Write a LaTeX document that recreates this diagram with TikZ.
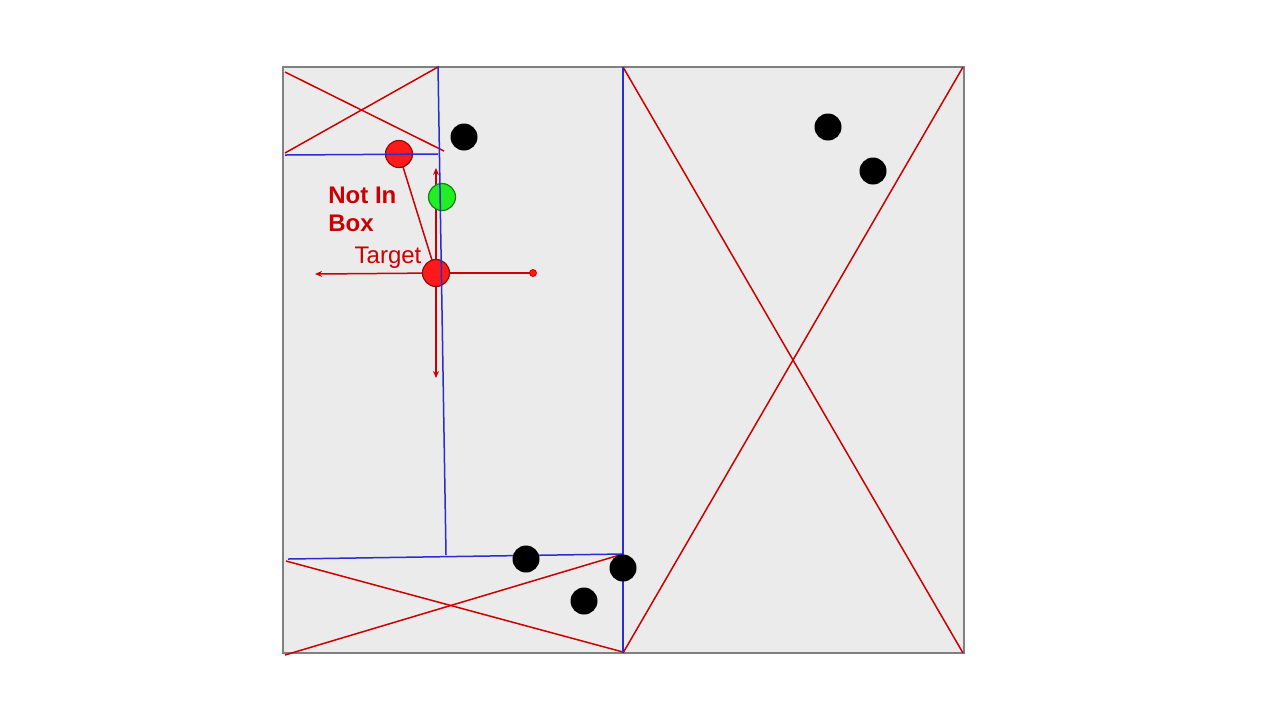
\documentclass[tikz,border=0pt]{standalone}
\usepackage{fontspec}
\setmainfont{Liberation Sans}
\usetikzlibrary{arrows.meta}
\definecolor{boxfill}{HTML}{EBEBEB}
\definecolor{boxline}{HTML}{808080}
\definecolor{xred}{HTML}{CC0000}
\definecolor{bline}{HTML}{2B2BD0}
\definecolor{ballred}{HTML}{FF1A1A}
\definecolor{ballgreen}{HTML}{22EE22}
\tikzset{
  redline/.style={draw=xred, line width=0.75pt},
  blueline/.style={draw=bline, line width=0.75pt},
  redarrow/.style={draw=xred, line width=0.75pt, -{Stealth[length=3.5pt,width=3pt]}},
  ball/.style={circle, minimum size=13.5pt, inner sep=0pt, draw=#1!55!black, line width=0.6pt, fill=#1},
  blackball/.style={circle, minimum size=13.5pt, inner sep=0pt, fill=black},
  lbl/.style={text=xred, font=\fontsize{12pt}{14pt}\selectfont, inner sep=0pt}
}
\begin{document}
\begin{tikzpicture}[x=0.5pt, y=-0.5pt]
\useasboundingbox (0,0) rectangle (1280,720);
\fill[white] (0,0) rectangle (1280,720);
% main frame
\draw[boxline, fill=boxfill, line width=1pt] (283,67) rectangle (964,653);

% positions
\coordinate (pRed) at (399,154);
\coordinate (pGreen) at (442,197);
\coordinate (pTarget) at (436,273);
\coordinate (aUp) at (436,168);
\coordinate (aDown) at (436,378);
\coordinate (aLeft) at (315,274);
\coordinate (aRight) at (533,273);

% red X shapes
\draw[redline] (285,72) -- (444,151);
\draw[redline] (285,153) -- (438,67);
\draw[redline] (286,561) -- (623,652);
\draw[redline] (285,655) -- (623,554);
\draw[redline] (623,67) -- (963,653);
\draw[redline] (623,653) -- (963,67);

% target arrows
\draw[redline] (pRed) -- (pTarget);
\draw[redarrow] (pTarget) -- (aUp);
\draw[redarrow] (pTarget) -- (aDown);
\draw[redarrow] (pTarget) -- (aLeft);
\draw[redline] (pTarget) -- (aRight);
\node[circle, fill=ballred, draw=xred, line width=0.4pt, minimum size=3.5pt, inner sep=0pt] (dotR) at (aRight) {};

% colored balls
\node[ball=ballred] (redball) at (pRed) {};
\node[ball=ballgreen] (greenball) at (pGreen) {};
\node[ball=ballred] (target) at (pTarget) {};

% blue lines
\draw[blueline] (285,155) -- (438,154);
\draw[blueline] (438,66) -- (446,555);
\draw[blueline] (288,559) -- (623,554);
\draw[blueline] (623,67) -- (623,653);

% black balls
\node[blackball] (b1) at (464,137) {};
\node[blackball] (b2) at (526,559) {};
\node[blackball] (b3) at (584,601) {};
\node[blackball] (b4) at (623,568) {};
\node[blackball] (b5) at (828,127) {};
\node[blackball] (b6) at (873,171) {};

% labels
\node[lbl, anchor=base west, align=left, font=\bfseries\fontsize{12pt}{14pt}\selectfont] (notin) at (328,231) {Not In\\Box};
\node[lbl, anchor=base] (tgt) at (388,263) {Target};
\end{tikzpicture}
\end{document}
